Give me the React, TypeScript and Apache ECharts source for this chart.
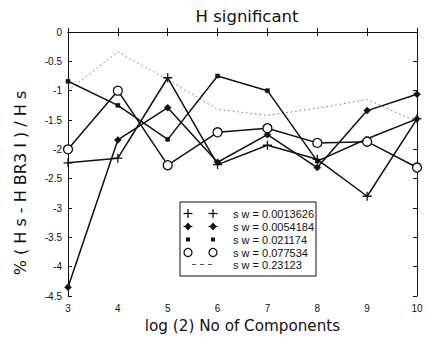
import React, { useEffect, useRef } from "react";
import * as echarts from "echarts";

const components = [3, 4, 5, 6, 7, 8, 9, 10];
const sw0013626 = [-2.23, -2.15, -0.78, -2.26, -1.93, -2.17, -2.8, -1.48];
const sw0054184 = [-4.35, -1.84, -1.29, -2.22, -1.75, -2.31, -1.34, -1.06];
const sw021174 = [-0.84, -1.25, -1.83, -0.75, -1.0, -2.2, -1.82, -1.48];
const sw077534 = [-2.0, -1.0, -2.27, -1.71, -1.64, -1.89, -1.87, -2.31];
const sw23123 = [-1.0, -0.34, -0.81, -1.32, -1.42, -1.3, -1.15, -1.53];
const legendLabels = [
  "s w = 0.0013626",
  "s w = 0.0054184",
  "s w = 0.021174",
  "s w = 0.077534",
  "s w = 0.23123",
];
const titleText = "H significant";
const xName = "log (2) No of Components";
const yName = "% ( H s - H BR3 I ) / H s";

const FONT = "Liberation Sans, Arial, sans-serif";
const WIDE = "DejaVu Sans, sans-serif";
const INK = "#111";

const pair = (ys: number[]) => components.map((x, i) => [x, ys[i]]);

export default function App() {
  const ref = useRef<HTMLDivElement>(null);
  useEffect(() => {
    if (!ref.current) return;
    const chart = echarts.init(ref.current, undefined, { renderer: "svg" });
    const grid = { left: 68, right: 10, top: 32, bottom: 39 };
    const lineStyle = { color: INK, width: 1.5 };
    const axisCommon = {
      axisLine: { show: true, lineStyle: { color: INK, width: 1 } },
      axisTick: { show: true, inside: true, length: 4, lineStyle: { color: INK } },
      splitLine: { show: false },
    };

    const lx = 180, ly = 202, lw = 136, lh = 74;
    const rowY = [213.5, 226.5, 239.5, 252.5, 264.5];
    const m1 = 188, m2 = 213;
    const legendEls: any[] = [
      { type: "rect", shape: { x: lx, y: ly, width: lw, height: lh }, style: { fill: "#fff", stroke: INK, lineWidth: 1 }, z: 100 },
    ];
    const plus = (cx: number, cy: number) => [
      { type: "line", shape: { x1: cx - 4.5, y1: cy, x2: cx + 4.5, y2: cy }, style: { stroke: INK, lineWidth: 1.3 }, z: 101 },
      { type: "line", shape: { x1: cx, y1: cy - 4.5, x2: cx, y2: cy + 4.5 }, style: { stroke: INK, lineWidth: 1.3 }, z: 101 },
    ];
    const diamond = (cx: number, cy: number) => [
      { type: "polygon", shape: { points: [[cx, cy - 4], [cx + 3.5, cy], [cx, cy + 4], [cx - 3.5, cy]] }, style: { fill: INK }, z: 101 },
      { type: "line", shape: { x1: cx - 4.5, y1: cy, x2: cx + 4.5, y2: cy }, style: { stroke: INK, lineWidth: 1.2 }, z: 101 },
    ];
    const smallx = (cx: number, cy: number) => [
      { type: "rect", shape: { x: cx - 2, y: cy - 2, width: 4, height: 4 }, style: { fill: INK }, z: 101 },
    ];
    const circ = (cx: number, cy: number) => [
      { type: "circle", shape: { cx, cy, r: 4 }, style: { fill: "#fff", stroke: INK, lineWidth: 1.3 }, z: 101 },
    ];
    [plus, diamond, smallx, circ].forEach((fn, i) => {
      legendEls.push(...fn(m1, rowY[i]), ...fn(m2, rowY[i]));
    });
    legendEls.push({
      type: "line",
      shape: { x1: m1 + 4, y1: rowY[4], x2: m2, y2: rowY[4] },
      style: { stroke: "#555", lineWidth: 1, lineDash: [4, 4] },
      z: 101,
    });
    legendLabels.forEach((t, i) => {
      legendEls.push({
        type: "text",
        x: 233,
        y: rowY[i],
        style: { text: t, fill: INK, font: `11px ${FONT}`, align: "left", verticalAlign: "middle" },
        z: 101,
      });
    });
    legendEls.push({
      type: "text",
      x: 20,
      y: 183,
      rotation: Math.PI / 2,
      style: { text: yName, fill: INK, font: `16px ${WIDE}`, align: "center", verticalAlign: "middle" },
      z: 101,
    });
    legendEls.push({
      type: "text",
      x: 247,
      y: 16,
      style: { text: titleText, fill: INK, font: `16.5px ${WIDE}`, align: "center", verticalAlign: "middle" },
      z: 101,
    });

    chart.setOption({
      animation: false,
      backgroundColor: "#fff",
      grid,
      xAxis: [
        {
          type: "value",
          min: 3,
          max: 10,
          interval: 1,
          name: xName,
          nameLocation: "middle",
          nameGap: 22,
          nameTextStyle: { fontFamily: WIDE, fontSize: 15.2, color: INK },
          axisLabel: { fontFamily: FONT, fontSize: 10, color: INK, margin: 7 },
          ...axisCommon,
        },
        {
          type: "value",
          position: "top",
          min: 3,
          max: 10,
          interval: 1,
          axisLabel: { show: false },
          ...axisCommon,
        },
      ],
      yAxis: [
        {
          type: "value",
          min: -4.5,
          max: 0,
          interval: 0.5,
          axisLabel: { fontFamily: FONT, fontSize: 10, color: INK, margin: 6 },
          ...axisCommon,
        },
        {
          type: "value",
          position: "right",
          min: -4.5,
          max: 0,
          interval: 0.5,
          axisLabel: { show: false },
          ...axisCommon,
        },
      ],
      series: [
        {
          name: legendLabels[4],
          type: "line",
          data: pair(sw23123),
          symbol: "none",
          lineStyle: { color: "#777", width: 1, type: [1.5, 3] },
          z: 2,
        },
        {
          name: legendLabels[0],
          type: "line",
          data: pair(sw0013626),
          symbol: "path://M0,5L10,5M5,0L5,10",
          symbolSize: 9,
          showAllSymbol: true,
          lineStyle,
          itemStyle: { color: INK, borderColor: INK, borderWidth: 1.3 },
          z: 3,
        },
        {
          name: legendLabels[1],
          type: "line",
          data: pair(sw0054184),
          symbol: "diamond",
          symbolSize: 7,
          showAllSymbol: true,
          lineStyle,
          itemStyle: { color: INK, borderColor: INK, borderWidth: 0.5 },
          z: 3,
        },
        {
          name: legendLabels[2],
          type: "line",
          data: pair(sw021174),
          symbol: "rect",
          symbolSize: 4,
          showAllSymbol: true,
          lineStyle,
          itemStyle: { color: INK, borderColor: INK, borderWidth: 0.5 },
          z: 3,
        },
        {
          name: legendLabels[3],
          type: "line",
          data: pair(sw077534),
          symbol: "circle",
          symbolSize: 9,
          showAllSymbol: true,
          lineStyle,
          itemStyle: { color: "#fff", borderColor: INK, borderWidth: 1.3 },
          z: 4,
        },
      ],
      graphic: legendEls,
    });
    return () => chart.dispose();
  }, []);
  return (
    <div
      ref={ref}
      style={{ position: "fixed", left: 0, top: 0, width: 427, height: 338, background: "#fff" }}
    />
  );
}
